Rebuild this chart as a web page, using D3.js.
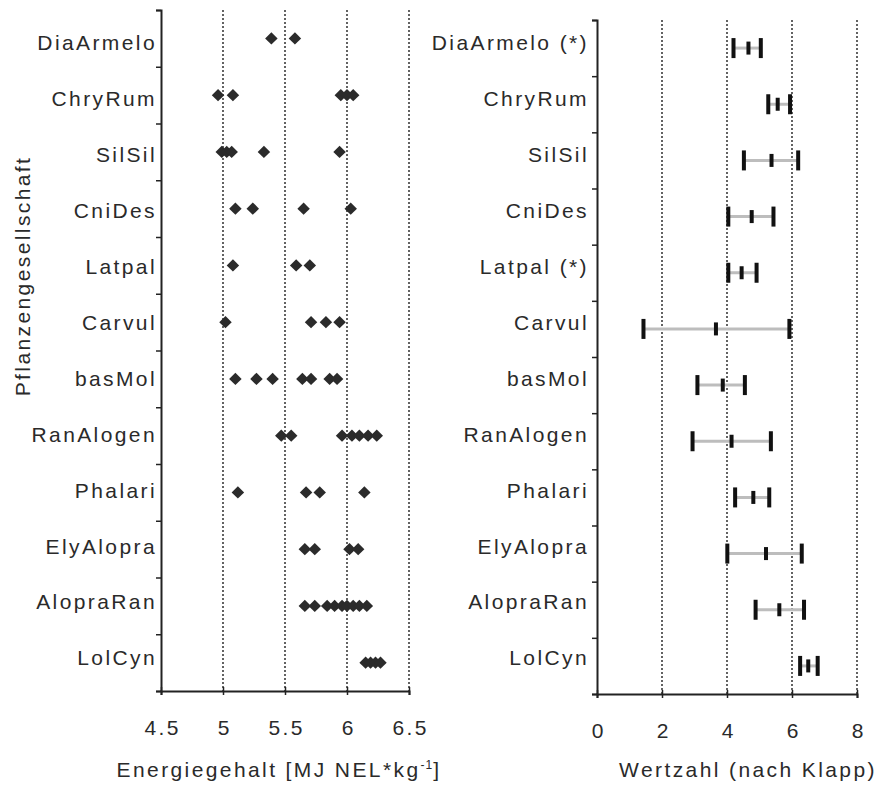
<!DOCTYPE html>
<html><head><meta charset="utf-8">
<script src="https://cdn.jsdelivr.net/npm/d3@7/dist/d3.min.js"></script>
<style>
html,body{margin:0;padding:0;background:#fff;}
svg{display:block;}
text{font-family:"Liberation Sans",Arial,sans-serif;fill:#2a2a2a;}
</style></head>
<body>
<svg id="chart" width="882" height="789"></svg>
<script>
// ---- data ----
const categories = ["DiaArmelo","ChryRum","SilSil","CniDes","Latpal","Carvul","basMol","RanAlogen","Phalari","ElyAlopra","AlopraRan","LolCyn"];
const rightLabels = ["DiaArmelo (*)","ChryRum","SilSil","CniDes","Latpal (*)","Carvul","basMol","RanAlogen","Phalari","ElyAlopra","AlopraRan","LolCyn"];
const energy = [
  [5.39, 5.58],
  [4.96, 5.08, 5.95, 6.0, 6.05],
  [4.99, 5.03, 5.07, 5.33, 5.94],
  [5.10, 5.24, 5.65, 6.03],
  [5.08, 5.59, 5.70],
  [5.02, 5.71, 5.83, 5.94],
  [5.10, 5.27, 5.40, 5.64, 5.71, 5.86, 5.92],
  [5.47, 5.55, 5.96, 6.04, 6.10, 6.17, 6.24],
  [5.12, 5.67, 5.78, 6.14],
  [5.66, 5.74, 6.02, 6.09],
  [5.66, 5.74, 5.84, 5.90, 5.96, 6.00, 6.05, 6.10, 6.16],
  [6.15, 6.19, 6.23, 6.27]
];
const wertMin  = [4.20, 5.27, 4.52, 4.04, 4.04, 1.43, 3.09, 2.94, 4.25, 4.01, 4.88, 6.25];
const wertMean = [4.66, 5.56, 5.37, 4.76, 4.45, 3.66, 3.87, 4.14, 4.81, 5.20, 5.61, 6.50];
const wertMax  = [5.04, 5.94, 6.19, 5.43, 4.91, 5.92, 4.55, 5.35, 5.30, 6.30, 6.37, 6.79];
const energyTicks = [4.5, 5, 5.5, 6, 6.5];
const energyTickLabels = ["4.5", "5", "5.5", "6", "6.5"];
const wertTicks = [0, 2, 4, 6, 8];
const wertTickLabels = ["0", "2", "4", "6", "8"];

// ---- layout ----
const svg = d3.select("#chart");
const FS = 21, LS = 2.4;
const txt = sel => sel.style("font-size", FS + "px").style("letter-spacing", LS + "px");

const L = {x0: 161, x1: 409, y0: 10, y1: 691};
const R = {x0: 597, x1: 857, y0: 20, y1: 694};

const xL = d3.scaleLinear().domain([4.5, 6.5]).range([L.x0, L.x1]);
const xR = d3.scaleLinear().domain([0, 8]).range([R.x0, R.x1]);
const yL = d3.scaleBand().domain(categories).range([L.y0, L.y1]);
const yR = d3.scaleBand().domain(categories).range([R.y0, R.y1]);
const yLab = d3.scalePoint().domain(categories).range([43, 658]);
const bL = d3.scaleLinear().domain([0, 12]).range([L.y0, L.y1]);
const bR = d3.scaleLinear().domain([0, 12]).range([R.y0, R.y1]);

function grid(x, ticks, P) {
  svg.append("g").selectAll("line").data(ticks.slice(1)).join("line")
    .attr("x1", d => x(d)).attr("x2", d => x(d))
    .attr("y1", P.y0).attr("y2", P.y1)
    .attr("stroke", "#484848").attr("stroke-width", 1.7).attr("stroke-dasharray", "2,2");
}
grid(xL, energyTicks, L);
grid(xR, wertTicks, R);

function axes(x, b, P, ticks, labels) {
  const gx = svg.append("g").attr("transform", `translate(0,${P.y1})`)
    .call(d3.axisBottom(x).tickValues(ticks).tickFormat((d, i) => labels[i]).tickSizeOuter(0).tickSize(4).tickPadding(25));
  gx.select(".domain").attr("stroke", "#222").attr("stroke-width", 2);
  gx.selectAll(".tick line").attr("y1", -4).attr("y2", 4).attr("stroke", "#222").attr("stroke-width", 1.5);
  gx.selectAll(".tick text").call(txt).attr("fill", "#2a2a2a").attr("font-family", null)
    .attr("dx", LS / 2);
  const gy = svg.append("g").attr("transform", `translate(${P.x0},0)`)
    .call(d3.axisLeft(b).tickValues(d3.range(0, 13)).tickFormat("").tickSizeOuter(0).tickSize(5));
  gy.select(".domain").attr("stroke", "#222").attr("stroke-width", 2);
  gy.selectAll(".tick line").attr("stroke", "#222").attr("stroke-width", 1.5);
}
axes(xL, bL, L, energyTicks, energyTickLabels);
axes(xR, bR, R, wertTicks, wertTickLabels);

// category labels
svg.append("g").selectAll("text").data(categories).join("text")
  .attr("x", 157).attr("y", d => yLab(d)).attr("dy", "0.35em")
  .attr("text-anchor", "end").text(d => d).call(txt);
svg.append("g").selectAll("text").data(categories).join("text")
  .attr("x", 589).attr("y", d => yLab(d)).attr("dy", "0.35em")
  .attr("text-anchor", "end").text((d, i) => rightLabels[i]).call(txt);

// left: diamonds
const diamond = d3.symbol().type(d3.symbolSquare).size(78)();
const pts = energy.flatMap((vals, i) => vals.map(v => ({c: categories[i], v})));
svg.append("g").selectAll("path").data(pts).join("path")
  .attr("d", diamond)
  .attr("transform", d => `translate(${xL(d.v)},${yL(d.c) + yL.bandwidth() / 2}) rotate(45)`)
  .attr("fill", "#2b2b2b");

// right: range bars
const rows = categories.map((c, i) => ({c, mn: wertMin[i], me: wertMean[i], mx: wertMax[i]}));
const gR = svg.append("g");
gR.selectAll("line.rng").data(rows).join("line").attr("class", "rng")
  .attr("x1", d => xR(d.mn)).attr("x2", d => xR(d.mx))
  .attr("y1", d => yR(d.c) + yR.bandwidth() / 2).attr("y2", d => yR(d.c) + yR.bandwidth() / 2)
  .attr("stroke", "#bdbdbd").attr("stroke-width", 3);
function bars(key, h) {
  gR.selectAll("rect." + key).data(rows).join("rect").attr("class", key)
    .attr("x", d => xR(d[key]) - 2).attr("width", 4)
    .attr("y", d => yR(d.c) + yR.bandwidth() / 2 - h / 2).attr("height", h)
    .attr("fill", "#111");
}
bars("mn", 20);
bars("mx", 20);
bars("me", 13);

// axis titles
const t1 = svg.append("text").attr("x", 279).attr("y", 777).attr("text-anchor", "middle").call(txt);
t1.append("tspan").text("Energiegehalt [MJ NEL*kg");
t1.append("tspan").text("-1").style("font-size", "12px").style("letter-spacing", "1px").attr("dy", -8);
t1.append("tspan").text("]").attr("dy", 8);
svg.append("text").attr("x", 748).attr("y", 777).attr("text-anchor", "middle")
  .text("Wertzahl (nach Klapp)").call(txt);
svg.append("text").attr("transform", "translate(30,276) rotate(-90)").attr("text-anchor", "middle")
  .text("Pflanzengesellschaft").call(txt);
</script>
</body></html>
